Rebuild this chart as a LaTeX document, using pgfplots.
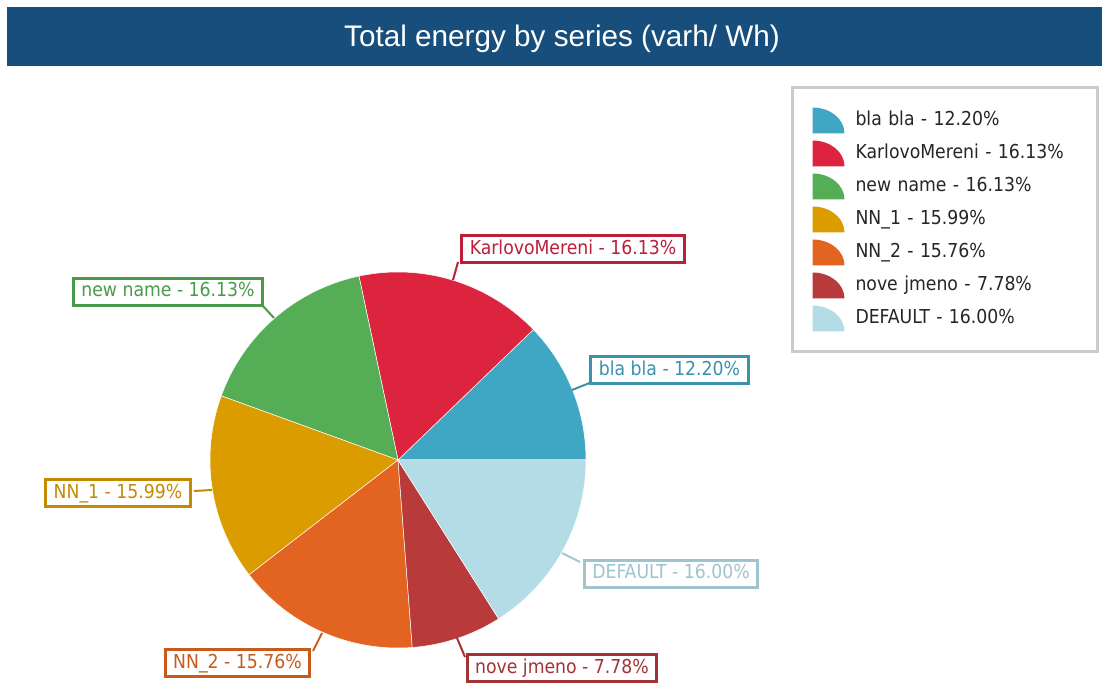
\documentclass[border=0pt]{standalone}
\usepackage{pgfplots}
\pgfplotsset{compat=1.18}
\usepackage{fontspec}
\setmainfont{DejaVu Sans}
\newfontfamily\lblfamily{DejaVu Sans Condensed}
\newfontfamily\titlefamily{Liberation Sans}
\newcommand\lblfont{\lblfamily\fontsize{19.2bp}{22bp}\selectfont}
\newcommand\titlefont{\titlefamily\fontsize{29.7bp}{34bp}\selectfont}

\definecolor{titleblue}{HTML}{174E7C}
\definecolor{cA}{HTML}{3FA7C4}\definecolor{lA}{HTML}{3A92AD}
\definecolor{cB}{HTML}{DC243F}\definecolor{lB}{HTML}{BB1F3A}
\definecolor{cC}{HTML}{55AE56}\definecolor{lC}{HTML}{4A9A4B}
\definecolor{cD}{HTML}{DB9C00}\definecolor{lD}{HTML}{C48B00}
\definecolor{cE}{HTML}{E26420}\definecolor{lE}{HTML}{C85A1C}
\definecolor{cF}{HTML}{B93A3A}\definecolor{lF}{HTML}{A33333}
\definecolor{cG}{HTML}{B4DCE6}\definecolor{lG}{HTML}{9FC4CD}

\tikzset{lbl/.style={draw=#1, text=#1, fill=white, line width=3bp, font=\lblfont,
  inner xsep=8bp, inner ysep=0pt, text height=14bp, text depth=4bp, minimum height=27bp}}

\begin{document}
\begin{tikzpicture}
% shares in percent
\pgfmathsetmacro\pA{12.20}
\pgfmathsetmacro\pB{16.13}
\pgfmathsetmacro\pC{16.13}
\pgfmathsetmacro\pD{15.99}
\pgfmathsetmacro\pE{15.76}
\pgfmathsetmacro\pF{7.78}
\pgfmathsetmacro\pG{16.00}
\pgfmathsetmacro\aA{0}
\pgfmathsetmacro\aB{\aA+3.6*\pA}
\pgfmathsetmacro\aC{\aB+3.6*\pB}
\pgfmathsetmacro\aD{\aC+3.6*\pC}
\pgfmathsetmacro\aE{\aD+3.6*\pD}
\pgfmathsetmacro\aF{\aE+3.6*\pE}
\pgfmathsetmacro\aG{\aF+3.6*\pF}
\pgfmathsetmacro\aH{360}
\useasboundingbox (0,0) rectangle (1102bp,683bp);
\begin{axis}[scale only axis, width=1102bp, height=683bp,
  xmin=0, xmax=1102, ymin=0, ymax=683, hide axis, clip=false,
  legend style={at={(axis description cs:0.71801,0.87372)}, anchor=north west,
    draw=black!20, line width=2.5bp, fill=white,
    inner xsep=20bp, inner ysep=20bp, row sep=7bp, column sep=11bp,
    text=black!85, font=\lblfont, cells={anchor=west},
    nodes={inner sep=0pt, text width=222bp, align=left, text height=14bp, text depth=4bp}},
  legend image code/.code={\path[fill, draw=none] (0bp,-13bp) -- (32bp,-13bp)
    arc[start angle=0, end angle=90, x radius=32bp, y radius=26bp] -- cycle;},
  ]
\fill[titleblue] (axis cs:7,617) rectangle (axis cs:1102,676);
\node[font=\titlefont, text=white] at (axis cs:562,644) {Total energy by series (varh/ Wh)};

\addplot[fill=cA, draw=white, line width=0.5bp, no marks, domain=\aA:\aB, samples=40, variable=\t]
  ({398+188*cos(\t)},{223+188*sin(\t)}) -- (axis cs:398,223) -- cycle;
\addlegendentry{bla bla - 12.20\%}
\addplot[fill=cB, draw=white, line width=0.5bp, no marks, domain=\aB:\aC, samples=40, variable=\t]
  ({398+188*cos(\t)},{223+188*sin(\t)}) -- (axis cs:398,223) -- cycle;
\addlegendentry{KarlovoMereni - 16.13\%}
\addplot[fill=cC, draw=white, line width=0.5bp, no marks, domain=\aC:\aD, samples=40, variable=\t]
  ({398+188*cos(\t)},{223+188*sin(\t)}) -- (axis cs:398,223) -- cycle;
\addlegendentry{new name - 16.13\%}
\addplot[fill=cD, draw=white, line width=0.5bp, no marks, domain=\aD:\aE, samples=40, variable=\t]
  ({398+188*cos(\t)},{223+188*sin(\t)}) -- (axis cs:398,223) -- cycle;
\addlegendentry{NN\_1 - 15.99\%}
\addplot[fill=cE, draw=white, line width=0.5bp, no marks, domain=\aE:\aF, samples=40, variable=\t]
  ({398+188*cos(\t)},{223+188*sin(\t)}) -- (axis cs:398,223) -- cycle;
\addlegendentry{NN\_2 - 15.76\%}
\addplot[fill=cF, draw=white, line width=0.5bp, no marks, domain=\aF:\aG, samples=40, variable=\t]
  ({398+188*cos(\t)},{223+188*sin(\t)}) -- (axis cs:398,223) -- cycle;
\addlegendentry{nove jmeno - 7.78\%}
\addplot[fill=cG, draw=white, line width=0.5bp, no marks, domain=\aG:\aH, samples=40, variable=\t]
  ({398+188*cos(\t)},{223+188*sin(\t)}) -- (axis cs:398,223) -- cycle;
\addlegendentry{DEFAULT - 16.00\%}

% leader lines
\addplot[lA, line width=2bp, no marks, forget plot] coordinates {(572,293) (592,301)};
\addplot[lB, line width=2bp, no marks, forget plot] coordinates {(453,403) (458,421)};
\addplot[lC, line width=2bp, no marks, forget plot] coordinates {(274,365) (262,378)};
\addplot[lD, line width=2bp, no marks, forget plot] coordinates {(212,193) (194,192)};
\addplot[lE, line width=2bp, no marks, forget plot] coordinates {(322,50) (313,32)};
\addplot[lF, line width=2bp, no marks, forget plot] coordinates {(457,45) (465,26)};
\addplot[lG, line width=2bp, no marks, forget plot] coordinates {(562,130) (580,121)};

% labels
\node[lbl=lA] at (axis cs:669.5,312.5) {bla bla - 12.20\%};
\node[lbl=lB] at (axis cs:573,433.5) {KarlovoMereni - 16.13\%};
\node[lbl=lC] at (axis cs:168,391) {new name - 16.13\%};
\node[lbl=lD] at (axis cs:118,189.5) {NN\_1 - 15.99\%};
\node[lbl=lE] at (axis cs:237.5,19.5) {NN\_2 - 15.76\%};
\node[lbl=lF] at (axis cs:562,14.5) {nove jmeno - 7.78\%};
\node[lbl=lG] at (axis cs:671,109) {DEFAULT - 16.00\%};
\end{axis}
\end{tikzpicture}
\end{document}
